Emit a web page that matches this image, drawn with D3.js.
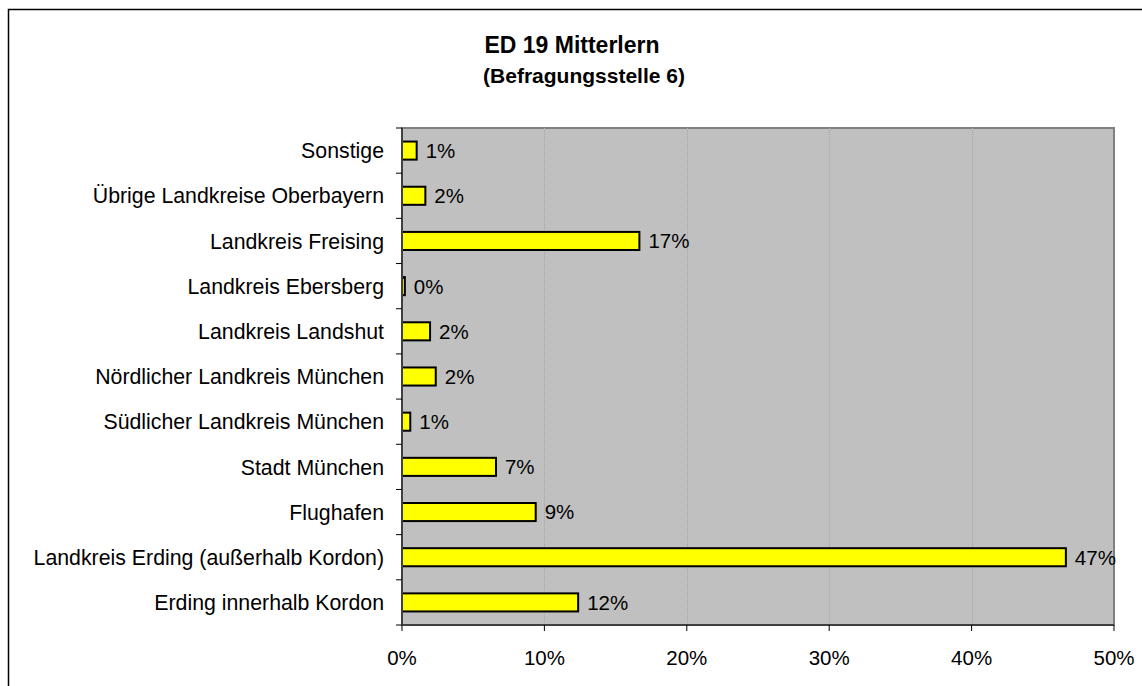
<!DOCTYPE html>
<html><head><meta charset="utf-8">
<script src="https://cdn.jsdelivr.net/npm/d3@7"></script>
<style>body{margin:0;background:#fff}svg{display:block;font-family:"Liberation Sans",Arial,sans-serif}</style>
</head><body><div id="c"></div>
<script>
const title = "ED 19 Mitterlern";
const subtitle = "(Befragungsstelle 6)";
const categories = ["Sonstige","Übrige Landkreise Oberbayern","Landkreis Freising","Landkreis Ebersberg","Landkreis Landshut","Nördlicher Landkreis München","Südlicher Landkreis München","Stadt München","Flughafen","Landkreis Erding (außerhalb Kordon)","Erding innerhalb Kordon"];
const values = [0.0103,0.0164,0.1667,0.0020,0.0197,0.0237,0.0058,0.0660,0.0939,0.4662,0.1237];
const labels = ["1%","2%","17%","0%","2%","2%","1%","7%","9%","47%","12%"];
const xTicks = [0,0.1,0.2,0.3,0.4,0.5];

const W=1142,H=686;
const svg=d3.select("#c").append("svg").attr("width",W).attr("height",H);
svg.append("rect").attr("x",8.5).attr("y",9.5).attr("width",W+10).attr("height",H+10).attr("fill","#fff").attr("stroke","#000").attr("stroke-width",1.5);

const m={l:402,r:1114,t:128,b:625};
const x=d3.scaleLinear().domain([0,0.5]).range([m.l,m.r]);
const y=d3.scaleBand().domain(categories).range([m.t,m.b]).paddingInner(0.6).paddingOuter(0.3);

svg.append("rect").attr("x",m.l).attr("y",m.t).attr("width",m.r-m.l).attr("height",m.b-m.t).attr("fill","#c0c0c0").attr("stroke","#808080").attr("stroke-width",2);

svg.append("g").selectAll("line").data(xTicks.slice(1,-1)).join("line")
 .attr("x1",d=>Math.round(x(d))+0.5).attr("x2",d=>Math.round(x(d))+0.5).attr("y1",m.t).attr("y2",m.b)
 .attr("stroke","#a6a6a6").attr("stroke-width",1).attr("stroke-dasharray","1,1");

svg.append("g").selectAll("rect").data(categories).join("rect")
 .attr("x",x(0)).attr("y",d=>y(d)).attr("width",(d,i)=>x(values[i])-x(0)).attr("height",y.bandwidth())
 .attr("fill","#ffff00").attr("stroke","#000").attr("stroke-width",2);

svg.append("g").selectAll("text").data(categories).join("text")
 .attr("x",(d,i)=>x(values[i])+9).attr("y",d=>y(d)+y.bandwidth()/2).attr("dy","0.36em")
 .attr("font-size",20.5).attr("fill","#000").text((d,i)=>labels[i]);

// y axis
const ya=svg.append("g").attr("transform",`translate(${m.l},0)`);
ya.append("line").attr("x1",0).attr("x2",0).attr("y1",m.t).attr("y2",m.b).attr("stroke","#404040").attr("stroke-width",2);
const step=(m.b-m.t)/categories.length;
ya.selectAll("line.t").data(d3.range(categories.length+1)).join("line").attr("class","t")
 .attr("x1",-6).attr("x2",0).attr("y1",i=>m.t+i*step).attr("y2",i=>m.t+i*step).attr("stroke","#000");
ya.selectAll("text").data(categories).join("text")
 .attr("x",-18).attr("y",d=>y(d)+y.bandwidth()/2).attr("dy","0.36em").attr("text-anchor","end")
 .attr("font-size",21.3).attr("fill","#000").text(d=>d);

// x axis
const xa=svg.append("g");
xa.append("line").attr("x1",m.l).attr("x2",m.r).attr("y1",m.b).attr("y2",m.b).attr("stroke","#404040").attr("stroke-width",2);
xa.selectAll("line.t").data(xTicks).join("line").attr("class","t")
 .attr("x1",d=>x(d)).attr("x2",d=>x(d)).attr("y1",m.b).attr("y2",m.b+6).attr("stroke","#000");
xa.selectAll("text").data(xTicks).join("text")
 .attr("x",d=>x(d)).attr("y",m.b+40).attr("text-anchor","middle").attr("font-size",20.5).attr("fill","#000")
 .text(d3.format(".0%"));

svg.append("text").attr("x",572).attr("y",53).attr("text-anchor","middle").attr("font-size",23).attr("font-weight","bold").text(title);
svg.append("text").attr("x",584).attr("y",83).attr("text-anchor","middle").attr("font-size",21).attr("font-weight","bold").text(subtitle);
</script></body></html>
